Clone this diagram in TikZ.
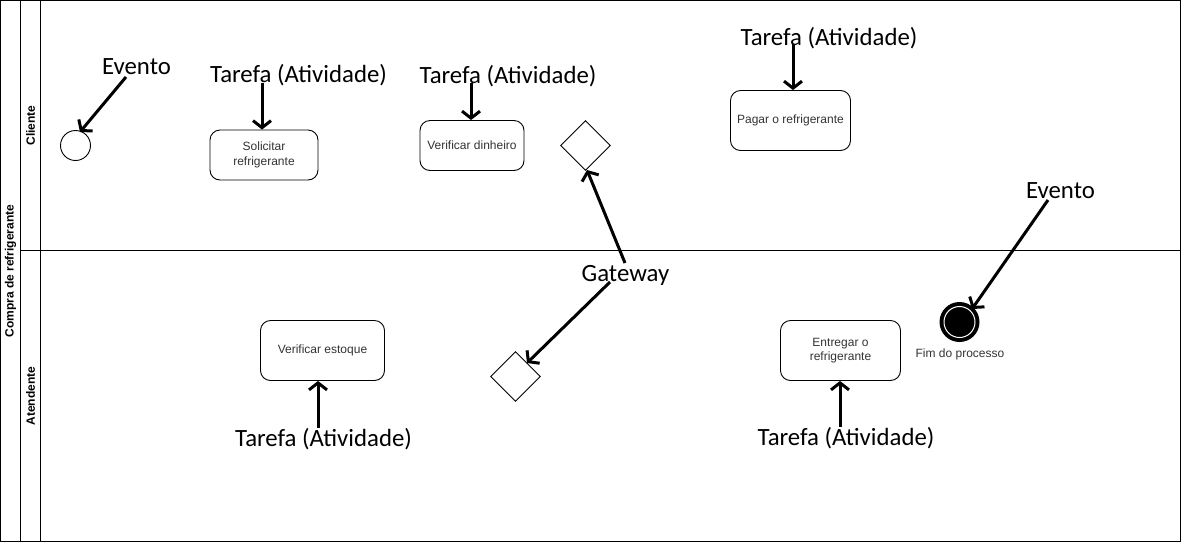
\documentclass[tikz,border=0pt]{standalone}
\usepackage{fontspec}
\setmainfont{Liberation Sans}
\newfontfamily\annotfont{Carlito}
\usetikzlibrary{arrows.meta,shapes.geometric}
\begin{document}
\begin{tikzpicture}[x=1pt,y=-1pt,
  frame/.style={draw=black, line width=1pt},
  task/.style={draw=black, line width=0.9pt, rounded corners=10pt, align=center, inner sep=2pt,
    text=black!80, font=\fontsize{12}{14.5}\selectfont},
  gateway/.style={draw=black, line width=0.9pt, diamond, aspect=1, inner sep=0pt,
    minimum width=50pt, minimum height=50pt},
  lanelabel/.style={rotate=90, font=\bfseries\fontsize{12}{14}\selectfont, inner sep=0pt},
  annot/.style={anchor=base, inner sep=0pt, font=\annotfont\fontsize{24.8}{29}\selectfont},
  note/.style={line width=3pt, -{Straight Barb[length=7pt,width=18pt,line width=3pt]}},
  small/.style={font=\fontsize{12}{14}\selectfont, text=black!80, inner sep=0pt}
]
\useasboundingbox (0,0) rectangle (1181,542);
% pool and lanes
\draw[frame] (0.5,0.5) rectangle (1180.5,541.5);
\draw[frame] (20.5,0.5) -- (20.5,541.5);
\draw[frame] (40.5,0.5) -- (40.5,541.5);
\draw[frame] (20.5,250.5) -- (1180.5,250.5);
\node[lanelabel] (pool) at (10.5,271) {Compra de refrigerante};
\node[lanelabel] (lane1) at (30.5,125.5) {Cliente};
\node[lanelabel] (lane2) at (30.5,396) {Atendente};

% flow elements
\node[circle, draw=black, line width=0.9pt, minimum size=30pt, inner sep=0pt] (start) at (75.5,145.5) {};
\node[task, minimum width=108pt, minimum height=50pt] (s1) at (264,155) {Solicitar\\refrigerante};
\node[task, minimum width=104pt, minimum height=50pt] (vd) at (472,145.5) {Verificar dinheiro};
\node[gateway] (g1) at (585.5,145.5) {};
\node[task, minimum width=120pt, minimum height=60pt] (pg) at (790.5,120.5) {Pagar o refrigerante};
\node[task, minimum width=124pt, minimum height=60pt] (ve) at (322.5,350.5) {Verificar estoque};
\node[gateway] (g2) at (515.5,376.5) {};
\node[task, minimum width=120pt, minimum height=60pt] (en) at (840.5,350.5) {Entregar o\\refrigerante};
\node[circle, fill=black, minimum size=40pt, inner sep=0pt] (endev) at (959.5,322) {};
\node[circle, draw=white, line width=1pt, minimum size=31pt, inner sep=0pt] (endin) at (959.5,322) {};
\node[small] (endlbl) at (960,354) {Fim do processo};

% annotations
\node[annot] (ev1) at (136.5,74) {Evento};
\node[annot] (t1) at (298.5,82) {Tarefa (Atividade)};
\node[annot] (t2) at (508,83) {Tarefa (Atividade)};
\node[annot] (t3) at (829,45) {Tarefa (Atividade)};
\node[annot] (ev2) at (1060.5,198) {Evento};
\node[annot] (gw) at (625.5,281) {Gateway};
\node[annot] (t4) at (323.5,446) {Tarefa (Atividade)};
\node[annot] (t5) at (846,445) {Tarefa (Atividade)};

\coordinate (a1s) at (126,77);   \coordinate (a1e) at (80,132);
\coordinate (a2s) at (262,83);
\coordinate (a3s) at (471,83);
\coordinate (a4s) at (793,44);
\coordinate (a5s) at (1048,200); \coordinate (a5e) at (972,309);
\coordinate (a6s) at (625,263);  \coordinate (a6e) at (587,170);
\coordinate (a7s) at (610,282);  \coordinate (a7e) at (527,363);
\coordinate (a8s) at (318,428);
\coordinate (a9s) at (840,427);

\draw[note] (a1s) -- (a1e);
\draw[note] (a2s) -- (a2s |- s1.north);
\draw[note] (a3s) -- (a3s |- vd.north);
\draw[note] (a4s) -- (a4s |- pg.north);
\draw[note] (a5s) -- (a5e);
\draw[note] (a6s) -- (a6e);
\draw[note] (a7s) -- (a7e);
\draw[note] (a8s) -- (a8s |- ve.south);
\draw[note] (a9s) -- (a9s |- en.south);
\end{tikzpicture}
\end{document}
